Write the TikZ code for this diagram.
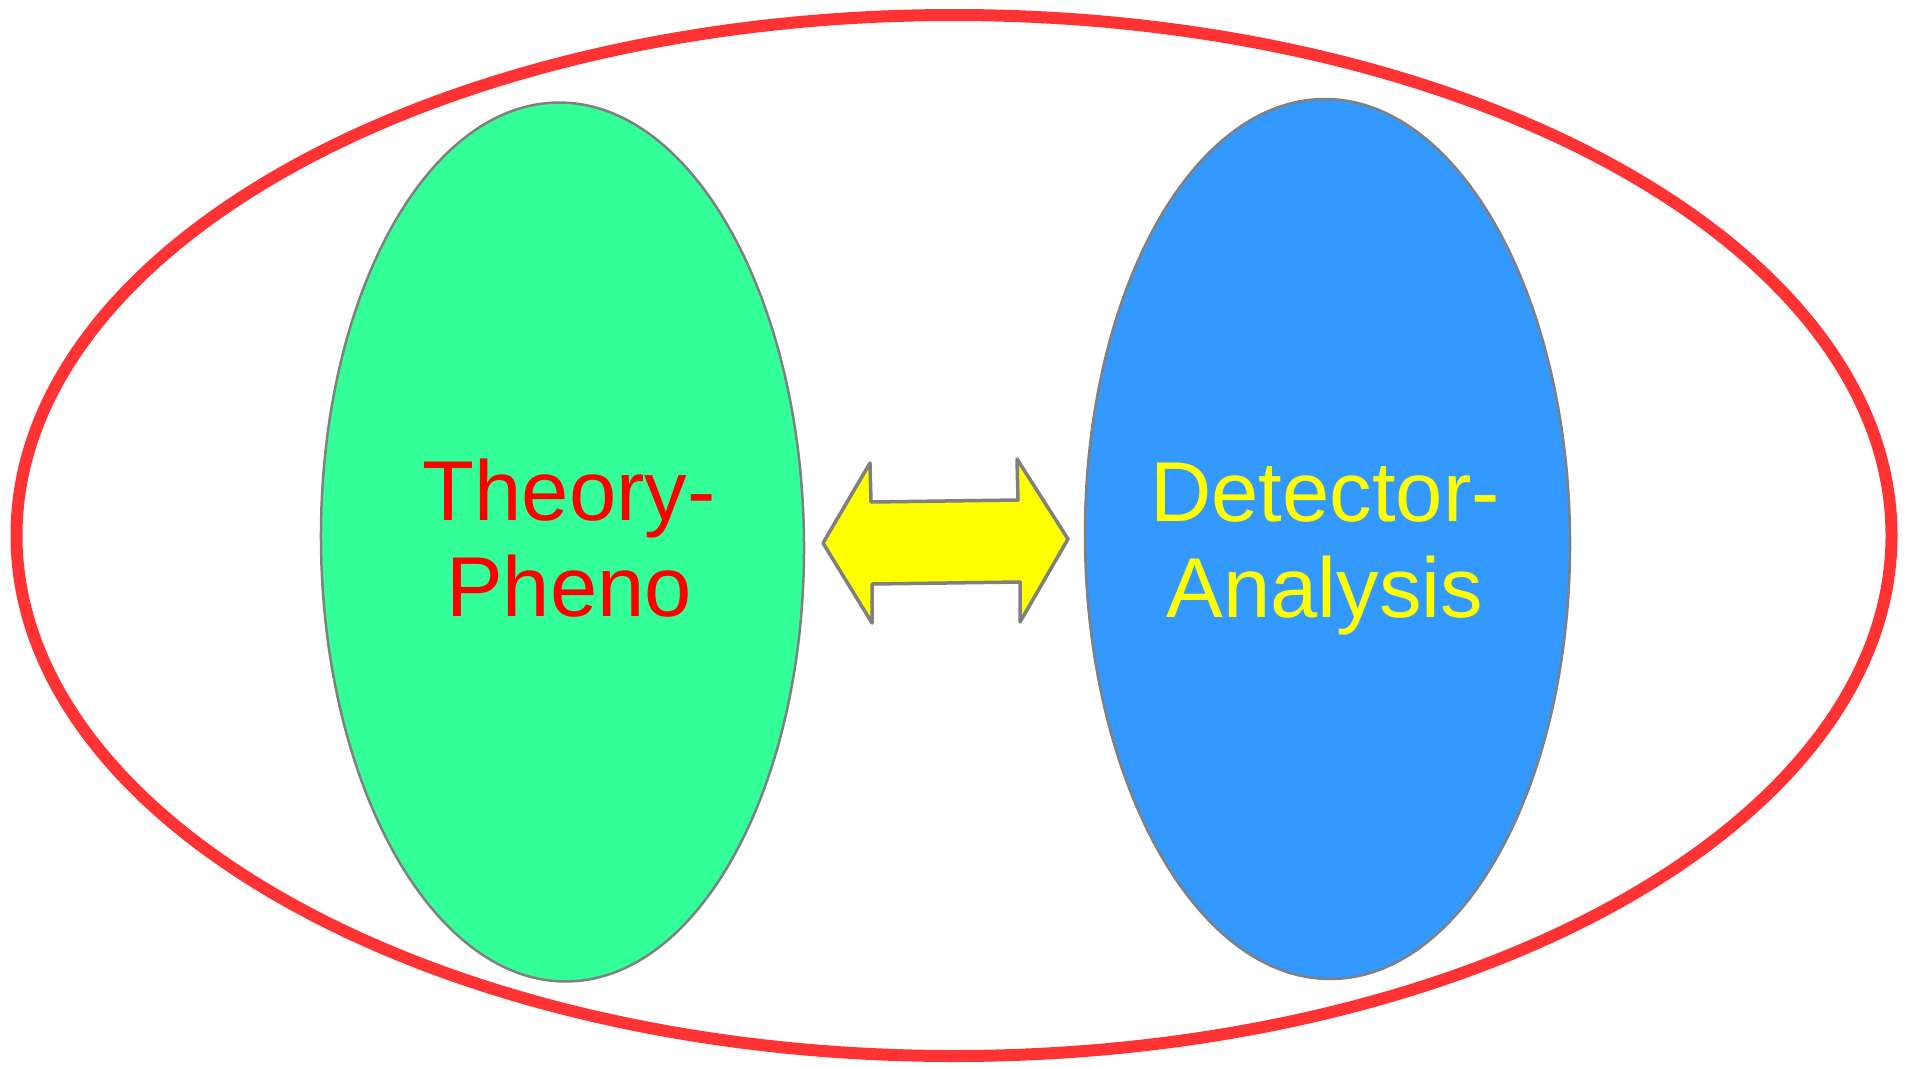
\documentclass[tikz,border=0pt]{standalone}
\usepackage{fontspec}
\setmainfont{Liberation Sans}
\usetikzlibrary{shapes.geometric}
\definecolor{outerred}{HTML}{FF3333}
\definecolor{greenfill}{HTML}{33FF99}
\definecolor{bluefill}{HTML}{3399FF}
\definecolor{edgegray}{HTML}{808080}
\definecolor{arrowyellow}{HTML}{FFFF00}
\definecolor{labelred}{HTML}{FF0000}
\definecolor{labelyellow}{HTML}{FFFF00}
\begin{document}
\begin{tikzpicture}[x=1pt,y=-1pt,
  blob/.style={ellipse, draw=edgegray, line width=2.5pt, inner sep=0pt, minimum width=483pt, minimum height=879pt},
  lbl/.style={align=center, inner sep=0pt, anchor=base, font=\fontsize{85}{96}\selectfont}]
\useasboundingbox (0,0) rectangle (1914,1066);
\node[ellipse, draw=outerred, line width=12pt, inner sep=0pt, minimum width=1875pt, minimum height=1041pt] (outer) at (954,535.5) {};
\node[blob, fill=greenfill, rotate=0.6] (theory) at (562.5,542) {};
\node[blob, fill=bluefill, rotate=0.5, minimum width=485pt, minimum height=880pt] (detector) at (1327.5,539) {};
\node[lbl, text=labelred] (tlabel) at (569,616) {Theory-\\Pheno};
\node[lbl, text=labelyellow] (dlabel) at (1325,617) {Detector-\\Analysis};
\draw[draw=edgegray, fill=arrowyellow, line width=3.5pt, line join=round]
  (823,543) -- (870,463) -- (871,502) -- (1018,500) -- (1017,459) -- (1068,539)
  -- (1020,622) -- (1020,582) -- (872,584) -- (872,623) -- cycle;
\end{tikzpicture}
\end{document}
